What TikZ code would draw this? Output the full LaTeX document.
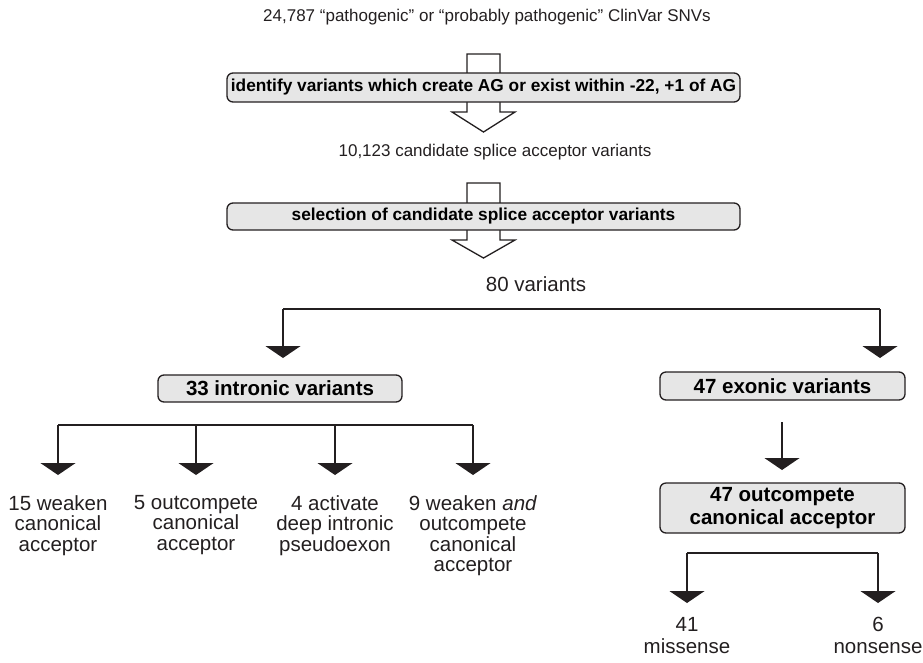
\documentclass[tikz,border=0pt]{standalone}
\usepackage{fontspec}
\setmainfont{Liberation Sans}
\usetikzlibrary{arrows.meta}

\definecolor{boxgray}{RGB}{230,230,230}
\definecolor{ink}{RGB}{35,31,32}

\tikzset{stepbox/.style={draw=ink, line width=1.3pt, rounded corners=6pt, fill=boxgray,
                         font=\fontsize{17.3}{20}\selectfont\bfseries, inner sep=0pt, align=center}}
\tikzset{bigbox/.style={stepbox, font=\fontsize{20.5}{23}\selectfont\bfseries}}
\tikzset{plain/.style={font=\fontsize{17}{20}\selectfont, text=ink, inner sep=0pt, align=center}}
\tikzset{label/.style={plain, font=\fontsize{20.5}{20.5}\selectfont}}
\tikzset{branch/.style={draw=ink, line width=1.3pt}}
\tikzset{down/.style={branch, -{Triangle[width=35pt, length=12pt]}}}
\tikzset{bigarrow/.style={draw=ink, line width=1.3pt, fill=white, line join=miter}}

\begin{document}
\begin{tikzpicture}[x=1pt, y=-1pt]

\useasboundingbox (0,0) rectangle (923,662);

\def\xm{483.5}
\def\sw{16.5}
\def\hw{31.5}

%filter steps
\node[plain] (clinvar) at (487, 17) {24,787 “pathogenic” or “probably pathogenic” ClinVar SNVs};

\draw[bigarrow] (\xm-\sw, 54) -- (\xm+\sw, 54) -- (\xm+\sw, 112) -- (\xm+\hw, 112)
                -- (\xm, 132) -- (\xm-\hw, 112) -- (\xm-\sw, 112) -- cycle;
\node[stepbox, minimum width=513pt, minimum height=29pt] (identify) at (\xm, 87.5)
     {identify variants which create AG or exist within -22, +1 of AG};

\node[plain] (candidates) at (495, 152) {10,123 candidate splice acceptor variants};

\draw[bigarrow] (\xm-\sw, 183) -- (\xm+\sw, 183) -- (\xm+\sw, 240) -- (\xm+\hw, 240)
                -- (\xm, 258) -- (\xm-\hw, 240) -- (\xm-\sw, 240) -- cycle;
\node[stepbox, minimum width=513pt, minimum height=27pt] (selection) at (\xm, 216.5)
     {selection of candidate splice acceptor variants};

\node[label] (eighty) at (536, 284) {80 variants};

%intronic or exonic
\coordinate (fork) at (283, 309);
\coordinate (forkr) at (880, 309);
\draw[branch] (fork) -- (forkr);
\draw[down] (fork) -- ++(0, 49);
\draw[down] (forkr) -- ++(0, 49);

\node[bigbox, minimum width=244pt, minimum height=27pt] (intronic) at (280, 388.5) {33 intronic variants};
\node[bigbox, minimum width=245pt, minimum height=28pt] (exonic) at (782.5, 386) {47 exonic variants};

%intronic outcomes
\coordinate (splitl) at (58, 425);
\coordinate (splitr) at (473, 425);
\draw[branch] (splitl) -- (splitr);
\foreach \xx in {58, 196, 335, 473}
  \draw[down] (\xx, 425) -- (\xx, 475);

\node[label, anchor=north] (weaken) at (58, 495) {15 weaken\\canonical\\acceptor};
\node[label, anchor=north] (outcompete) at (196, 495) {5 outcompete\\canonical\\acceptor};
\node[label, anchor=north] (deep) at (335, 495) {4 activate\\deep intronic\\pseudoexon};
\node[label, anchor=north] (both) at (473, 495) {9 weaken \textit{and}\\outcompete\\canonical\\acceptor};

%exonic outcomes
\coordinate (exonicdown) at (782, 422);
\draw[down] (exonicdown) -- ++(0, 48);

\node[bigbox, minimum width=245pt, minimum height=50pt] (exoniccomp) at (782.5, 508)
     {47 outcompete\\canonical acceptor};

\coordinate (splite) at (687, 553);
\coordinate (splitf) at (878, 553);
\draw[branch] (splite) -- (splitf);
\draw[down] (splite) -- ++(0, 50);
\draw[down] (splitf) -- ++(0, 50);

\node[label, anchor=north, font=\fontsize{20.5}{22}\selectfont] (missense) at (687, 617) {41\\missense};
\node[label, anchor=north, font=\fontsize{20.5}{22}\selectfont] (nonsense) at (878, 617) {6\\nonsense};

\end{tikzpicture}
\end{document}
